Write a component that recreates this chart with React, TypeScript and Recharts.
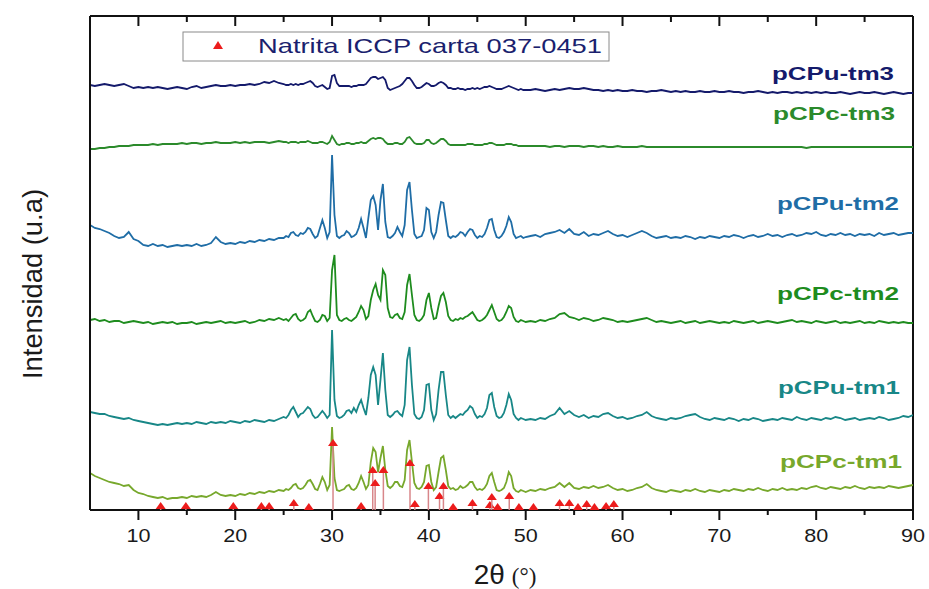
import React from 'react';
import { ComposedChart, Line, Scatter, XAxis, YAxis, ReferenceLine } from 'recharts';

// 2θ grid (degrees); finer around the natrite peaks
const twoTheta = [
  5, 5.5, 6, 6.5, 7, 7.5, 8, 8.5, 9, 9.5,
  10, 10.5, 11, 11.5, 12, 12.5, 13, 13.5, 14, 14.5,
  15, 15.5, 16, 16.5, 17, 17.5, 18, 18.5, 19, 19.5,
  20, 20.5, 21, 21.5, 22, 22.5, 23, 23.5, 24, 24.5,
  25, 25.25, 25.5, 25.75, 26, 26.25, 26.5, 26.75, 27, 27.25,
  27.5, 27.75, 28, 28.25, 28.5, 28.75, 29, 29.25, 29.5, 29.75,
  30, 30.25, 30.5, 30.75, 31, 31.25, 31.5, 31.75, 32, 32.25,
  32.5, 32.75, 33, 33.25, 33.5, 33.75, 34, 34.25, 34.5, 34.75,
  35, 35.25, 35.5, 35.75, 36, 36.25, 36.5, 36.75, 37, 37.25,
  37.5, 37.75, 38, 38.25, 38.5, 38.75, 39, 39.25, 39.5, 39.75,
  40, 40.25, 40.5, 40.75, 41, 41.25, 41.5, 41.75, 42, 42.25,
  42.5, 42.75, 43, 43.25, 43.5, 43.75, 44, 44.25, 44.5, 44.75,
  45, 45.25, 45.5, 45.75, 46, 46.25, 46.5, 46.75, 47, 47.25,
  47.5, 47.75, 48, 48.25, 48.5, 48.75, 49, 49.25, 49.5, 49.75,
  50,
  50.5, 51, 51.5, 52, 52.5, 53, 53.5, 54, 54.5, 55,
  55.5, 56, 56.5, 57, 57.5, 58, 58.5, 59, 59.5, 60,
  60.5, 61, 61.5, 62, 62.5, 63, 63.5, 64, 64.5, 65,
  65.5, 66, 66.5, 67, 67.5, 68, 68.5, 69, 69.5, 70,
  70.5, 71, 71.5, 72, 72.5, 73, 73.5, 74, 74.5, 75,
  75.5, 76, 76.5, 77, 77.5, 78, 78.5, 79, 79.5, 80,
  80.5, 81, 81.5, 82, 82.5, 83, 83.5, 84, 84.5, 85,
  85.5, 86, 86.5, 87, 87.5, 88, 88.5, 89, 89.5, 90,
];

// stacked intensities (u.a), offsets included as plotted
const pCPcTm1 = [
  37, 34, 32, 30, 28, 27, 26, 24, 25, 20, 17, 16, 14, 13, 12, 13, 11, 12, 12, 13,
  12, 14, 13, 14, 13, 15, 18, 15, 14, 15, 14, 16, 15, 17, 16, 18, 17, 19, 18, 20,
  19, 21, 20, 22, 25, 26, 22, 21, 22, 25, 29, 30, 26, 21, 20, 26, 33, 28, 20, 25,
  83, 32, 20, 19, 20, 21, 24, 25, 21, 20, 22, 27, 34, 28, 21, 25, 48, 62, 58, 38,
  52, 64, 40, 24, 22, 24, 28, 28, 24, 23, 30, 60, 70, 48, 27, 22, 21, 23, 28, 44,
  45, 28, 20, 23, 38, 52, 54, 40, 24, 21, 22, 20, 21, 24, 22, 23, 25, 28, 28, 23,
  20, 21, 20, 22, 26, 34, 37, 28, 20, 19, 20, 22, 28, 38, 34, 22, 19, 18, 20, 19,
  18,
  20, 19, 21, 20, 22, 23, 27, 23, 27, 22, 21, 23, 22, 24, 22, 23, 25, 22, 20, 21,
  19, 20, 22, 23, 26, 22, 20, 19, 18, 20, 19, 18, 20, 19, 21, 19, 18, 20, 19, 18,
  20, 19, 21, 20, 19, 21, 20, 22, 20, 19, 21, 20, 22, 20, 21, 20, 22, 21, 23, 24,
  22, 21, 23, 22, 21, 23, 22, 24, 22, 21, 23, 22, 23, 22, 24, 23, 22, 23, 24, 25,
];

const pCPuTm1 = [
  98, 97, 96, 96, 94, 93, 92, 91, 92, 90, 89, 88, 87, 86, 85, 86, 85, 86, 87, 86,
  87, 86, 88, 87, 86, 88, 87, 88, 87, 89, 88, 87, 89, 88, 90, 89, 88, 90, 89, 91,
  93, 92, 95, 100, 103, 98, 93, 96, 97, 100, 103, 101, 95, 92, 93, 96, 99, 96, 92, 95,
  180, 110, 94, 92, 93, 95, 99, 100, 97, 102, 98, 105, 110, 102, 95, 112, 135, 143, 135, 105,
  130, 157, 120, 95, 93, 95, 98, 99, 96, 94, 105, 150, 163, 125, 96, 92, 91, 93, 100, 125,
  126, 100, 90, 96, 120, 138, 138, 115, 95, 92, 94, 92, 94, 96, 95, 98, 100, 104, 102, 96,
  92, 94, 93, 96, 102, 115, 117, 103, 94, 92, 93, 97, 105, 116, 110, 96, 92, 90, 92, 91,
  90,
  91, 90, 92, 91, 94, 96, 102, 96, 99, 95, 93, 95, 92, 94, 93, 96, 97, 94, 92, 93,
  91, 92, 94, 95, 98, 94, 92, 91, 90, 92, 91, 92, 94, 95, 96, 93, 91, 90, 92, 91,
  90, 92, 91, 89, 91, 90, 92, 91, 89, 90, 91, 90, 92, 91, 90, 93, 91, 90, 92, 91,
  90, 92, 91, 93, 92, 90, 91, 92, 90, 91, 92, 91, 93, 92, 90, 91, 92, 94, 93, 95,
];

const pCPcTm2 = [
  190, 191, 189, 190, 188, 189, 189, 187, 188, 189, 188, 187, 188, 186, 187, 188, 187, 188, 186, 187,
  187, 188, 186, 187, 188, 187, 188, 189, 187, 188, 187, 188, 189, 187, 188, 190, 189, 191, 190, 192,
  190, 191, 189, 192, 195, 196, 191, 189, 190, 192, 198, 200, 194, 189, 188, 190, 195, 194, 189, 192,
  240, 255, 195, 190, 189, 191, 192, 190, 189, 191, 193, 198, 204, 200, 191, 194, 210, 220, 226, 215,
  210, 240, 235, 202, 193, 192, 195, 196, 192, 191, 198, 225, 236, 215, 195, 190, 189, 191, 195, 210,
  217, 202, 191, 192, 204, 214, 217, 208, 194, 190, 189, 191, 190, 192, 191, 193, 194, 196, 198, 194,
  190, 189, 190, 192, 195, 200, 205, 198, 191, 189, 190, 193, 198, 204, 202, 193, 189, 188, 190, 189,
  188,
  189, 188, 190, 189, 191, 192, 196, 197, 193, 192, 190, 192, 191, 189, 190, 192, 191, 190, 188, 189,
  188, 189, 190, 191, 192, 190, 188, 189, 188, 187, 188, 189, 187, 188, 189, 187, 188, 189, 188, 187,
  188, 187, 189, 188, 187, 188, 189, 187, 188, 189, 188, 187, 188, 189, 190, 188, 189, 188, 187, 189,
  188, 187, 188, 189, 187, 188, 187, 188, 189, 187, 188, 187, 189, 188, 187, 188, 187, 188, 187, 187,
];

const pCPuTm2 = [
  285, 282, 281, 279, 277, 274, 272, 273, 278, 271, 269, 265, 264, 266, 264, 265, 263, 264, 265, 264,
  265, 264, 266, 264, 265, 267, 273, 268, 266, 267, 266, 268, 267, 269, 268, 270, 269, 271, 270, 272,
  272, 274, 273, 277, 278, 275, 274, 277, 276, 278, 282, 281, 276, 272, 274, 282, 290, 282, 272, 278,
  355, 295, 274, 272, 274, 275, 279, 277, 273, 274, 276, 282, 291, 282, 272, 292, 310, 314, 305, 280,
  310, 326, 288, 273, 272, 274, 277, 283, 278, 274, 285, 320, 328, 300, 276, 272, 273, 274, 280, 302,
  300, 278, 272, 278, 295, 308, 307, 290, 274, 272, 274, 273, 275, 278, 277, 274, 278, 281, 280, 275,
  272, 274, 273, 276, 282, 290, 291, 280, 273, 272, 274, 278, 284, 293, 288, 276, 272, 273, 274, 272,
  273,
  274, 275, 273, 276, 277, 278, 280, 277, 281, 276, 275, 278, 274, 276, 275, 277, 279, 276, 274, 275,
  273, 275, 277, 279, 277, 274, 272, 273, 274, 272, 273, 272, 274, 273, 271, 273, 272, 274, 273, 272,
  274, 273, 275, 274, 272, 274, 275, 273, 274, 276, 274, 275, 273, 275, 276, 274, 275, 277, 276, 278,
  275, 274, 276, 275, 277, 275, 276, 274, 276, 275, 276, 274, 277, 275, 276, 277, 275, 276, 277, 277,
];

const pCPcTm3 = [
  361, 361, 362, 362, 363, 363, 364, 364, 364, 365, 365, 365, 365, 366, 365, 366, 366, 366, 366, 367,
  366, 367, 367, 366, 367, 367, 368, 367, 367, 367, 368, 367, 368, 367, 368, 368, 368, 367, 368, 369,
  368, 368, 367, 368, 368, 368, 367, 368, 368, 368, 369, 368, 367, 367, 367, 368, 368, 367, 366, 368,
  374, 370, 366, 365, 366, 366, 367, 367, 366, 366, 367, 367, 368, 367, 367, 369, 371, 372, 371, 372,
  372, 371, 368, 366, 366, 366, 367, 367, 366, 366, 368, 372, 373, 370, 367, 366, 366, 366, 367, 370,
  370, 367, 366, 367, 369, 371, 371, 369, 366, 365, 365, 365, 365, 365, 365, 365, 366, 366, 366, 365,
  365, 365, 365, 366, 366, 367, 367, 366, 365, 365, 365, 365, 366, 366, 366, 365, 365, 364, 364, 364,
  364,
  364, 364, 364, 364, 363, 364, 364, 363, 364, 364, 364, 363, 364, 364, 363, 364, 363, 363, 364, 363,
  363, 363, 363, 364, 363, 363, 363, 363, 363, 363, 363, 363, 363, 363, 363, 363, 363, 363, 363, 363,
  363, 363, 363, 363, 363, 363, 363, 363, 363, 363, 363, 363, 363, 363, 363, 363, 363, 362, 363, 363,
  363, 363, 363, 363, 363, 363, 363, 363, 363, 363, 363, 363, 363, 363, 363, 363, 363, 363, 363, 363,
];

const pCPuTm3 = [
  425, 424, 425, 426, 425, 424, 425, 426, 424, 422, 423, 422, 423, 422, 423, 422, 421, 422, 423, 422,
  421, 423, 424, 422, 423, 424, 425, 424, 424, 425, 424, 425, 425, 426, 425, 426, 428, 427, 429, 427,
  426, 425, 425, 426, 425, 426, 425, 426, 426, 427, 428, 429, 427, 424, 423, 424, 425, 423, 421, 422,
  434, 435, 427, 424, 424, 424, 424, 424, 423, 424, 424, 425, 425, 425, 426, 429, 432, 433, 433, 431,
  432, 433, 430, 422, 420, 421, 422, 423, 424, 426, 429, 432, 432, 429, 425, 422, 422, 423, 425, 427,
  426, 424, 424, 425, 427, 428, 427, 425, 422, 422, 421, 421, 422, 421, 421, 420, 421, 421, 422, 421,
  422, 421, 422, 423, 423, 424, 423, 422, 421, 421, 421, 422, 423, 424, 423, 422, 421, 420, 421, 420,
  420,
  420, 421, 420, 419, 420, 421, 420, 421, 422, 421, 421, 422, 421, 420, 420, 419, 420, 419, 420, 419,
  419, 420, 419, 419, 418, 419, 419, 420, 419, 418, 419, 418, 419, 418, 418, 419, 418, 418, 419, 418,
  418, 419, 418, 418, 417, 418, 418, 419, 418, 417, 418, 417, 418, 418, 417, 418, 417, 418, 417, 418,
  417, 418, 417, 417, 418, 417, 416, 417, 418, 417, 417, 418, 417, 416, 417, 418, 417, 416, 417, 417,
];

// Natrita ICCP 037-0451 reference pattern
const natritaPos = [
  12.3, 14.9, 19.8, 22.7, 23.5, 26.05, 27.6, 30.1, 33.0, 34.2, 34.45, 35.3, 38.05, 38.55, 39.95, 41.1,
  41.5, 42.5, 44.5, 46.3, 46.5, 47.1, 48.3, 49.3, 50.8, 53.5, 54.5, 55.4, 56.3, 57.1, 58.3, 59.1,
];
const natritaInt = [
  4, 4, 4, 4, 4, 7, 3, 67, 4, 40, 27, 40, 47, 6, 24, 14,
  24, 3, 7, 5, 13, 3, 14, 3, 3, 7, 7, 3, 6, 3, 4, 6,
];

const TICKS = [10, 15, 20, 25, 30, 35, 40, 45, 50, 55, 60, 65, 70, 75, 80, 85, 90];
const PLOT_BOTTOM = 510;
const FONT = '"Liberation Sans", Arial, sans-serif';
const AXIS = '#111';

const SERIES = [
  { key: 'uTm3', name: 'pCPu-tm3', values: pCPuTm3, color: '#141a6b', lx: 772, ly: 80 },
  { key: 'cTm3', name: 'pCPc-tm3', values: pCPcTm3, color: '#2b8a2b', lx: 773, ly: 120 },
  { key: 'uTm2', name: 'pCPu-tm2', values: pCPuTm2, color: '#1f6da6', lx: 777, ly: 210 },
  { key: 'cTm2', name: 'pCPc-tm2', values: pCPcTm2, color: '#1e8c1e', lx: 777, ly: 300 },
  { key: 'uTm1', name: 'pCPu-tm1', values: pCPuTm1, color: '#188787', lx: 778, ly: 394 },
  { key: 'cTm1', name: 'pCPc-tm1', values: pCPcTm1, color: '#77a82c', lx: 780, ly: 468 },
];

const rows = twoTheta.map((t, i) => {
  const r: Record<string, number> = { t };
  SERIES.forEach(s => { r[s.key] = s.values[i]; });
  return r;
});
const sticks = natritaPos.map((t, i) => ({ t, h: natritaInt[i] }));

function BottomTick(props: any) {
  const { x, y, payload } = props;
  const major = payload.value % 10 === 0;
  return (
    <g>
      <line x1={x} x2={x} y1={y} y2={y + (major ? 10 : 5)} stroke={AXIS} strokeWidth={2} />
      {major && (
        <text x={x} y={y + 32} textAnchor="middle" fontFamily={FONT} fontSize={19} fill="#1a1a1a"
          textLength={24} lengthAdjust="spacingAndGlyphs">
          {payload.value}
        </text>
      )}
    </g>
  );
}

function TopTick(props: any) {
  const { x, y, payload } = props;
  const major = payload.value % 10 === 0;
  return <line x1={x} x2={x} y1={y} y2={y + (major ? 10 : 6)} stroke={AXIS} strokeWidth={2} />;
}

function Stick(props: any) {
  const { cx, cy } = props;
  return (
    <g>
      <line x1={cx} x2={cx} y1={PLOT_BOTTOM} y2={cy} stroke="#d8868a" strokeWidth={1.5} />
      <polygon points={`${cx},${cy - 4} ${cx - 5},${cy + 3} ${cx + 5},${cy + 3}`} fill="#ec1c1c" />
    </g>
  );
}

export default function App() {
  return (
    <div style={{ position: 'absolute', left: 0, top: 0, width: 929, height: 589, background: '#fff' }}>
      <ComposedChart width={929} height={589} data={rows} margin={{ top: 15, right: 16, bottom: 16, left: 0 }}>
        <XAxis xAxisId="b" dataKey="t" type="number" domain={[5, 90]} ticks={TICKS} interval={0}
          tickSize={0} tickMargin={0} tickLine={false} height={63} allowDataOverflow
          axisLine={{ stroke: AXIS, strokeWidth: 2 }} tick={(p: any) => <BottomTick {...p} />} />
        <XAxis xAxisId="t" orientation="top" dataKey="t" type="number" domain={[5, 90]} ticks={TICKS}
          interval={0} tickSize={0} tickMargin={0} tickLine={false} height={1} allowDataOverflow
          axisLine={{ stroke: AXIS, strokeWidth: 2 }} tick={(p: any) => <TopTick {...p} />} />
        <YAxis yAxisId="l" type="number" domain={[0, 494]} width={90} tick={false} tickLine={false}
          allowDataOverflow axisLine={{ stroke: AXIS, strokeWidth: 2 }} />
        <ReferenceLine xAxisId="b" yAxisId="l" x={90} stroke={AXIS} strokeWidth={2} />

        {SERIES.map(s => (
          <Line key={s.key} xAxisId="b" yAxisId="l" type="linear" dataKey={s.key} stroke={s.color}
            strokeWidth={1.8} dot={false} activeDot={false} isAnimationActive={false} />
        ))}
        <Scatter xAxisId="b" yAxisId="l" data={sticks} dataKey="h" shape={(p: any) => <Stick {...p} />}
          isAnimationActive={false} />

        {SERIES.map(s => (
          <text key={`lab-${s.key}`} x={s.lx} y={s.ly} fontFamily={FONT} fontSize={19} fontWeight="bold"
            fill={s.color} textLength={122} lengthAdjust="spacingAndGlyphs">
            {s.name}
          </text>
        ))}

        <g>
          <rect x={183} y={32} width={426} height={29} fill="#fff" stroke="#8a8a8a" strokeWidth={1} />
          <polygon points="218,41 213,49 223,49" fill="#ec1c1c" />
          <text x={258} y={53} fontFamily={FONT} fontSize={21} fill="#1b1f6e" textLength={344}
            lengthAdjust="spacingAndGlyphs">
            Natrita ICCP carta 037-0451
          </text>
        </g>

        <text transform="translate(42,284) rotate(-90)" textAnchor="middle" fontFamily={FONT} fontSize={28}
          fill="#1a1a1a" textLength={190} lengthAdjust="spacingAndGlyphs">
          Intensidad (u.a)
        </text>
        <text x={505} y={584} textAnchor="middle" fill="#1a1a1a">
          <tspan fontFamily={FONT} fontSize={28}>2θ</tspan>
          <tspan fontFamily='"Liberation Serif", "Times New Roman", serif' fontSize={23} dx={7}>(°)</tspan>
        </text>
      </ComposedChart>
    </div>
  );
}
